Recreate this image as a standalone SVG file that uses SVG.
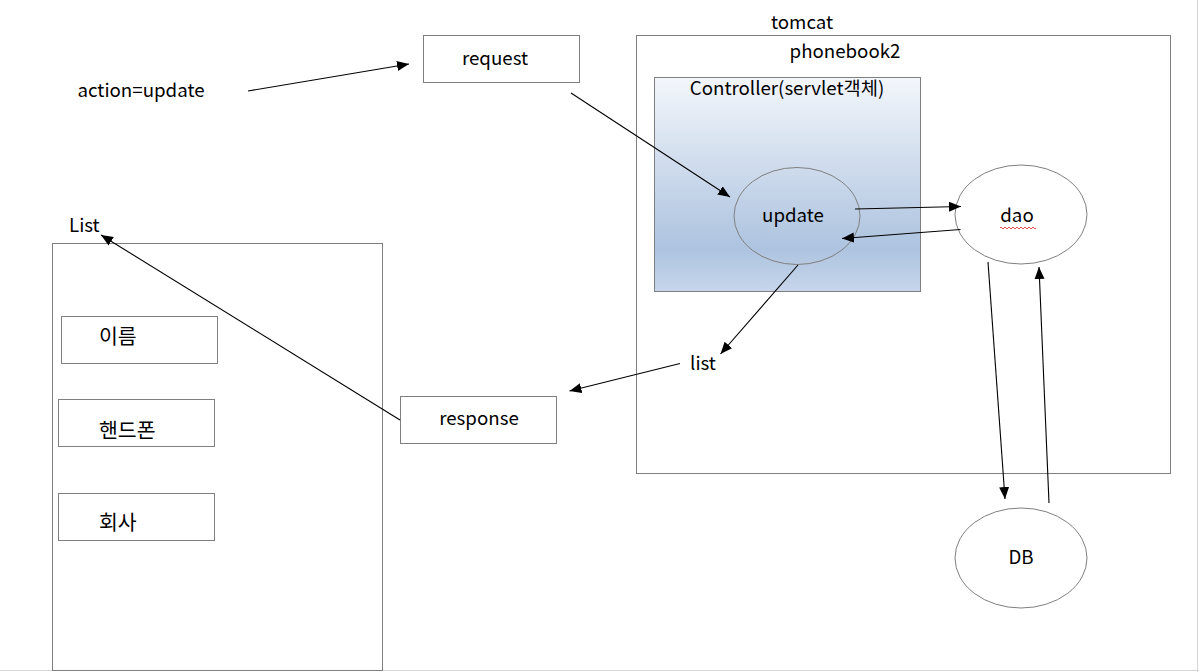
<svg xmlns="http://www.w3.org/2000/svg" width="1199" height="672" viewBox="0 0 1199 672">
<style>
text{font-family:"Noto Sans CJK KR","Noto Sans",sans-serif;font-size:18.7px;fill:#000}
text.ko{font-size:20.5px}
.box{fill:#fff;stroke:#7f7f7f;stroke-width:1}
.ell{fill:#fff;stroke:#7f7f7f;stroke-width:1}
.con{stroke:#000;stroke-width:1.1;fill:none;marker-end:url(#ah)}
</style>
<defs>
<marker id="ah" markerUnits="userSpaceOnUse" markerWidth="13" markerHeight="11" refX="12" refY="5" orient="auto">
<path d="M0,0 L12,5 L0,10 z" fill="#000"/>
</marker>
<linearGradient id="cg" x1="0" y1="0" x2="0" y2="1">
<stop offset="0" stop-color="#f3f6fb"/>
<stop offset="0.8" stop-color="#adc3df"/>
<stop offset="1" stop-color="#c7d6eb"/>
</linearGradient>
</defs>
<rect x="0" y="0" width="1199" height="672" fill="#fff"/>
<line x1="0" y1="670.5" x2="1199" y2="670.5" stroke="#d4d4d4"/>
<line x1="1197.5" y1="0" x2="1197.5" y2="672" stroke="#d4d4d4"/>

<g id="tomcat">
<rect class="box" x="636.5" y="35.5" width="534" height="438"/>
<text x="802" y="29" text-anchor="middle">tomcat</text>
<text x="845" y="58" text-anchor="middle">phonebook2</text>
</g>
<g id="controller">
<rect x="654.5" y="77.5" width="266" height="214" fill="url(#cg)" stroke="#7f7f7f"/>
<text x="787" y="95" text-anchor="middle">Controller(servlet객체)</text>
</g>
<g id="update">
<ellipse cx="797" cy="216" rx="63" ry="48.5" fill="none" stroke="#7f7f7f"/>
<text x="793" y="222" text-anchor="middle">update</text>
</g>
<g id="dao">
<ellipse class="ell" cx="1021" cy="214.5" rx="66" ry="49.5"/>
<text x="1017" y="222" text-anchor="middle">dao</text>
<path d="M1000,228 q1,-2 2,0 t2,0 t2,0 t2,0 t2,0 t2,0 t2,0 t2,0 t2,0 t2,0 t2,0 t2,0 t2,0 t2,0 t2,0 t2,0 t2,0 t2,0" stroke="#e02020" stroke-width="0.8" fill="none"/>
</g>
<g id="db">
<ellipse class="ell" cx="1021" cy="558" rx="66" ry="50"/>
<text x="1021" y="564" text-anchor="middle">DB</text>
</g>
<g id="action">
<text x="141" y="97" text-anchor="middle">action=update</text>
</g>
<g id="request">
<rect class="box" x="423.5" y="35.5" width="156" height="47"/>
<text x="495" y="65" text-anchor="middle">request</text>
</g>
<g id="listlabel">
<text x="703" y="370" text-anchor="middle">list</text>
</g>
<g id="response">
<rect class="box" x="400.5" y="396.5" width="156" height="47"/>
<text x="479" y="425" text-anchor="middle">response</text>
</g>
<g id="listview">
<rect class="box" x="52.5" y="243.5" width="330" height="427"/>
<text x="69" y="232">List</text>
</g>
<g id="name">
<rect class="box" x="61.5" y="316.5" width="156" height="47"/>
<text class="ko" x="99" y="344">이름</text>
</g>
<g id="phone">
<rect class="box" x="58.5" y="399.5" width="156" height="47"/>
<text class="ko" x="99" y="438">핸드폰</text>
</g>
<g id="company">
<rect class="box" x="58.5" y="493.5" width="156" height="47"/>
<text class="ko" x="99" y="530">회사</text>
</g>
<g id="connectors">
<line class="con" x1="248" y1="91" x2="409" y2="64"/>
<line class="con" x1="571" y1="93" x2="730" y2="197"/>
<line class="con" x1="855" y1="209" x2="961" y2="206.5"/>
<line class="con" x1="960.5" y1="229.5" x2="842" y2="238.5"/>
<line class="con" x1="798" y1="265" x2="720.5" y2="354"/>
<line class="con" x1="680" y1="363.5" x2="569.5" y2="391"/>
<line class="con" x1="400" y1="420" x2="101" y2="235"/>
<line class="con" x1="988" y1="262" x2="1005" y2="499"/>
<line class="con" x1="1049" y1="503" x2="1039" y2="267"/>
</g>
</svg>
